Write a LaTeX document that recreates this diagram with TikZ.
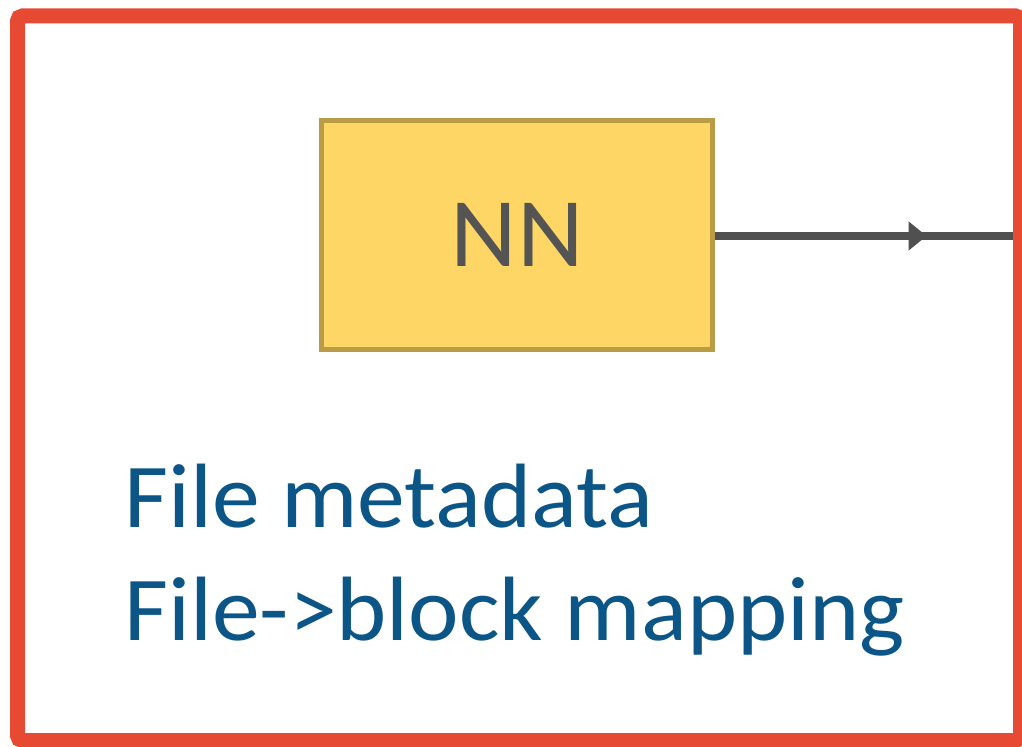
\documentclass[tikz,border=0pt]{standalone}
\usepackage{fontspec}
\setmainfont[FakeStretch=1.047]{Carlito}
\usetikzlibrary{arrows.meta}
\usetikzlibrary{decorations.markings}

\definecolor{frame}{HTML}{E64A33}
\definecolor{boxfill}{HTML}{FED666}
\definecolor{boxline}{HTML}{B99C45}
\definecolor{wire}{HTML}{505050}
\definecolor{note}{HTML}{0B5587}

\tikzset{
  nnbox/.style={rectangle, draw=boxline, fill=boxfill, line width=0.1cm,
    minimum width=7.82cm, minimum height=4.58cm, inner sep=0pt,
    text=black!67, font=\fontsize{56}{60}\selectfont},
  notetext/.style={anchor=base west, inner sep=0pt, text=note,
    font=\fontsize{52}{60}\selectfont},
  midarrow/.style={decoration={markings,
    mark=at position #1 with {\arrow{Triangle[length=0.36cm, width=0.56cm]}}},
    postaction={decorate}}
}

\begin{document}
\begin{tikzpicture}
\useasboundingbox (0,0) rectangle (20.44,14.92);
\clip (0,0) rectangle (20.44,14.92);
\draw[frame, line width=0.3cm, rounded corners=0.1cm] (0.35,0.11) rectangle (20.41,14.6);

\node[nnbox] (nn) at (10.34,10.22) {NN};
\coordinate (out) at (20.26,10.2);
\draw[wire, line width=0.15cm, midarrow=0.71] (nn.east |- out) -- (out);

\node[notetext] (meta) at (2.48,4.38) {File metadata};
\node[notetext] (mapping) at (2.48,2.12) {File->block mapping};
\end{tikzpicture}
\end{document}
